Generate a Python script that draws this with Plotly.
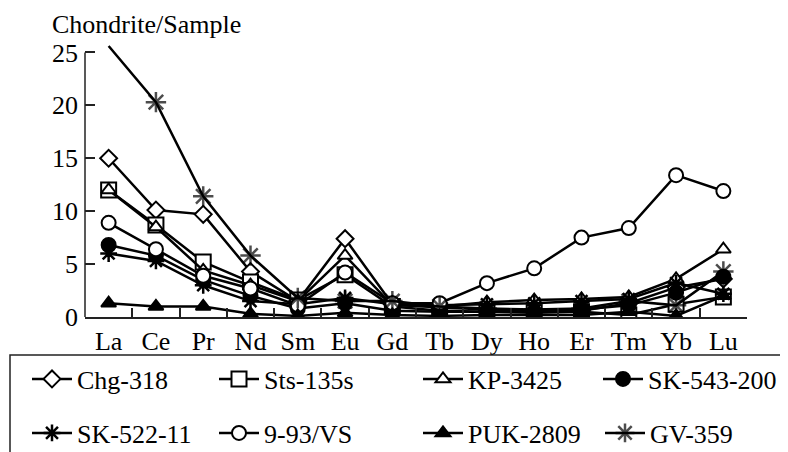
import plotly.graph_objects as go

ree = ["La", "Ce", "Pr", "Nd", "Sm", "Eu", "Gd", "Tb", "Dy", "Ho", "Er", "Tm", "Yb", "Lu"]

chg_318 = [15.0, 10.1, 9.7, 4.3, 1.5, 7.4, 1.2, 0.9, 0.7, 0.6, 0.6, 1.3, 2.8, 3.6]
sts_135s = [12.0, 8.7, 5.2, 3.3, 1.6, 4.0, 1.0, 0.6, 0.5, 0.4, 0.5, 0.2, 1.2, 1.9]
kp_3425 = [12.0, 8.5, 4.4, 3.0, 1.5, 5.8, 1.1, 1.0, 1.4, 1.6, 1.7, 1.9, 3.6, 6.4]
sk_543_200 = [6.8, 5.8, 3.5, 2.0, 0.8, 1.3, 0.6, 0.5, 0.5, 0.5, 0.7, 1.1, 2.3, 3.8]
sk_522_11 = [6.0, 5.3, 3.0, 1.5, 1.2, 1.8, 1.2, 1.1, 1.2, 1.3, 1.5, 1.7, 3.2, 2.2]
vs_9_93 = [8.9, 6.4, 3.9, 2.7, 1.1, 4.2, 1.3, 1.3, 3.2, 4.6, 7.5, 8.4, 13.4, 11.9]
puk_2809 = [1.3, 1.0, 1.0, 0.3, 0.1, 0.4, 0.2, 0.1, 0.2, 0.2, 0.2, 0.5, 0.1, 2.0]
gv_359 = [25.6, 20.3, 11.4, 5.8, 1.8, 1.5, 1.5, 1.0, 0.8, 0.7, 0.8, 1.5, 1.1, 4.3]

y_ticks = [0, 5, 10, 15, 20, 25]

FONT = "'Liberation Serif', 'DejaVu Serif', serif"
OFF = 8  # page body margin offset
W, H = 788, 452
# target (screen) plot area: x 85..747, y 45..317
ML = 85 - OFF
MR = W - (747 - OFF)
MT = 45 - OFF
MB = H - (317 - OFF)
PW, PH = W - ML - MR, H - MT - MB


def sx(p):
    return (p - OFF - ML) / PW


def sy(p):
    return (H - MB - (p - OFF)) / PH


series = [
    ("Chg-318", chg_318, "diamond", "white", 13, 76, 379),
    ("Sts-135s", sts_135s, "square", "white", 15, 263, 379),
    ("KP-3425", kp_3425, "triangle-up", "white", 13, 467, 379),
    ("SK-543-200", sk_543_200, "circle", "black", 14, 647, 379),
    ("SK-522-11", sk_522_11, "asterisk-open", "black", 14, 76, 433),
    ("9-93/VS", vs_9_93, "circle", "white", 14, 263, 433),
    ("PUK-2809", puk_2809, "triangle-up", "black", 13, 467, 433),
    ("GV-359", gv_359, "asterisk-open", "black", 17, 649, 433),
]

fig = go.Figure()
layout_legends = {}
for i, (name, vals, sym, fill, size, tx, ty) in enumerate(series):
    key = "legend" if i == 0 else f"legend{i + 1}"
    sizes = size
    if name == "GV-359":
        sizes = [0] + [size] * (len(vals) - 1)
    lw = 2.5 if sym.startswith("asterisk") else 2
    fig.add_trace(go.Scatter(
        x=ree, y=vals, name=name, mode="lines+markers",
        line=dict(color="black", width=2.5),
        marker=dict(symbol=sym, size=sizes, color=fill,
                    line=dict(color="black", width=lw)),
        legend=key,
    ))
    layout_legends[key] = dict(
        x=sx(tx - 49), y=sy(ty), xanchor="left", yanchor="middle",
        xref="paper", yref="paper", bgcolor="rgba(0,0,0,0)", borderwidth=0,
        itemwidth=40,
        font=dict(family=FONT, size=26, color="black"),
    )

fig.update_layout(
    width=W, height=H,
    margin=dict(l=ML, r=MR, t=MT, b=MB, autoexpand=False),
    paper_bgcolor="white", plot_bgcolor="white",
    font=dict(family=FONT, size=26, color="black"),
    showlegend=True,
    xaxis=dict(
        type="category", range=[-0.5, 13.5], tickson="boundaries",
        ticks="inside", ticklen=9, tickwidth=1.5, tickcolor="#222",
        showline=True, linecolor="#222", linewidth=1.5,
        showgrid=False, zeroline=False, automargin=False,
        tickfont=dict(family=FONT, size=26, color="black"),
    ),
    yaxis=dict(
        range=[0, 25.7], tickvals=y_ticks, ticks="inside", ticklen=10,
        tickwidth=1.5, tickcolor="#222", showline=False,
        showgrid=False, zeroline=False, ticklabelstandoff=6, automargin=False,
        tickfont=dict(family=FONT, size=26, color="black"),
    ),
    shapes=[
        dict(type="line", xref="paper", yref="y", x0=0, x1=0, y0=0, y1=25,
             line=dict(color="#222", width=1.5)),
        dict(type="rect", xref="paper", yref="paper",
             x0=sx(10), x1=sx(820), y0=sy(355), y1=sy(480),
             line=dict(color="#222", width=1.5), fillcolor="rgba(0,0,0,0)"),
    ],
    annotations=[
        dict(text="Chondrite/Sample", xref="paper", yref="paper",
             x=sx(50), y=sy(24), xanchor="left", yanchor="middle",
             showarrow=False, font=dict(family=FONT, size=26, color="black")),
    ],
    **layout_legends,
)

fig.write_html("out.html")
